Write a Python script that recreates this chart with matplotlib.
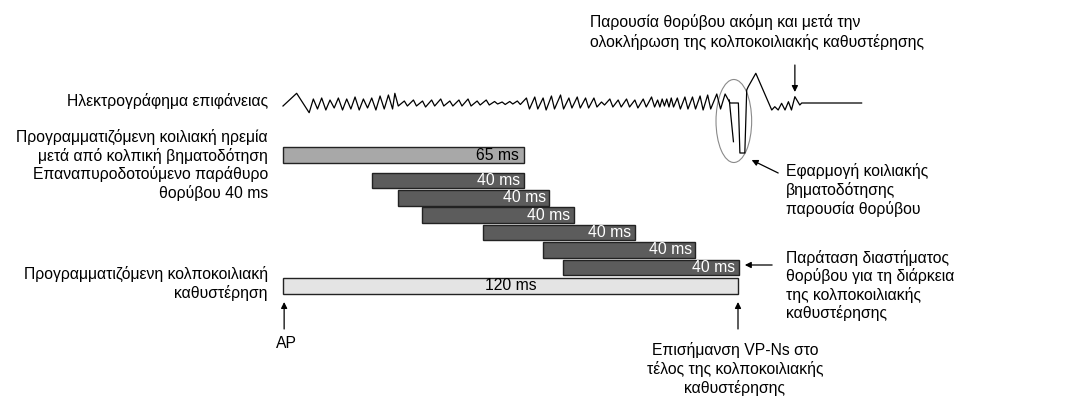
import matplotlib.pyplot as plt
from matplotlib.patches import Ellipse

plt.rcParams['font.family'] = ['Liberation Sans', 'DejaVu Sans']

# time axis in ms, 0 = atrial pace
av_delay = 120
blank_len = 63.5
blank_label = '65 ms'
noise_start = [23.5, 30.2, 36.7, 52.8, 68.7, 73.8]
noise_len = [40, 40, 40, 40, 40, 46.4]
noise_label = '40 ms'

# surface ECG: time (ms), deflection (arbitrary, up positive)
ecg_t = [0, 3.6, 6.9,
         8.0, 9.1, 10.2, 11.3, 12.4, 13.5, 14.6, 15.7, 16.8, 17.9, 19.0, 20.1,
         21.2, 22.3, 23.4, 24.5, 25.6, 26.7, 27.8, 28.9, 29.5, 30.4,
         32.0, 32.8, 34.4, 35.2, 36.8, 37.6, 39.2, 40.0, 41.6, 42.4, 44.0, 44.8,
         46.4, 47.2, 48.8, 49.6, 51.2, 52.0, 53.6, 54.4,
         55.8, 56.6, 57.8, 58.6, 59.8, 60.6, 61.8, 62.6,
         64.2, 65.0, 66.4, 67.2, 68.6, 69.4, 70.8, 71.6, 73.2, 74.0,
         75.4, 76.2, 77.6, 78.4, 79.8, 80.6, 82.0, 82.8,
         84.0, 84.8, 86.2, 87.0, 88.4, 89.2, 90.6, 91.4, 92.8, 93.6, 95.0, 95.8,
         97.2, 98.0, 98.8, 99.4, 100.0, 100.6, 101.2, 101.8, 102.4, 103.0,
         104.0, 104.8, 106.0, 106.8, 108.0, 108.8, 110.0, 110.8, 112.0, 112.8,
         114.4, 115.4, 116.6, 117.9, 120.1, 120.5, 121.8, 122.3, 122.7, 124.7,
         128.9, 129.7, 130.6, 131.5, 132.4, 133.3, 134.1, 135.0, 136.3, 136.8, 152.6]
ecg_v = [-3, 9.7, -9.7,
         4, -6, 5, -7, 3, -5, 5, -7, 4, -6, 6, -7,
         4, -5, 5, -7, 7, -6, 8, -6, 9.7, -3,
         2, -3, 3, -3, 2, -4, 3, -3, 4, -3, 2, -3,
         3, -3, 4, -3, 2, -2, 3, -2,
         1.5, -1, 1, -1.5, 1.5, -1, 2, -1.5,
         5, -6, 6, -6, 5, -7, 7, -6, 8, -6,
         5, -5, 6, -5, 5, -5, 5, -4,
         1, -2, 4, -4, 3, -4, 4, -4, 3, -5, 4, -4,
         6, -4, 3, -4, 4, -3, 4, -4, 5, -4,
         5, -6, 6, -6, 6, -6, 7, -7, 8, -6,
         9, -6, 9, 0, 0, -50, -50, 13, 16.3, 29.7,
         -7, -3.7, -7, -0.3, -7, 1.3, -7, 6.3, -2, 0, 0]
spike_t = [117.7, 118.8]
spike_v = [3, -38.7]

fig = plt.figure(figsize=(10.73, 3.96), dpi=100)
ax = fig.add_axes([0, 0, 1, 1])
px_ms = 455 / 120
ax.set_xlim(-283 / px_ms, (1073 - 283) / px_ms)
ax.set_ylim(396, 0)
ax.axis('off')

base = 103
ax.plot(ecg_t, [base - v for v in ecg_v], color='black', lw=0.9)
ax.plot(spike_t, [base - v for v in spike_v], color='black', lw=0.9)
ax.add_patch(Ellipse((118.9, 121), 9.4, 83, fill=False, edgecolor='#8a8a8a', lw=0.8))

fs = 11.3
h = 15.5
# blanking bar
ax.barh(155, blank_len, left=0, height=h, color='#a8a8a8', edgecolor='#222222', lw=1)
ax.text(blank_len - 1.3, 155, blank_label, ha='right', va='center', fontsize=fs, color='black')
rows = [180.3, 197.8, 215, 232.7, 250, 267.5]
for y, s, w in zip(rows, noise_start, noise_len):
    ax.barh(y, w, left=s, height=h, color='#5c5c5c', edgecolor='#222222', lw=1)
    ax.text(s + w - 0.9, y, noise_label, ha='right', va='center', fontsize=fs, color='white')
ax.barh(285.8, av_delay, left=0, height=h, color='#e4e4e4', edgecolor='#222222', lw=1)
ax.text(av_delay / 2, 285.8, '120 ms', ha='center', va='center', fontsize=fs)

# left labels
lx = -4.0
ax.text(lx, 101, 'Ηλεκτρογράφημα επιφάνειας', ha='right', va='center', fontsize=fs)
ax.text(lx, 146.5, 'Προγραμματιζόμενη κοιλιακή ηρεμία\nμετά από κολπική βηματοδότηση',
        ha='right', va='center', fontsize=fs, linespacing=1.21)
ax.text(lx, 183.5, 'Επαναπυροδοτούμενο παράθυρο\nθορύβου 40 ms',
        ha='right', va='center', fontsize=fs, linespacing=1.21)
ax.text(lx, 283.5, 'Προγραμματιζόμενη κολποκοιλιακή\nκαθυστέρηση',
        ha='right', va='center', fontsize=fs, linespacing=1.21)

arr = dict(arrowstyle='-|>', color='black', lw=0.9, mutation_scale=9, shrinkA=0, shrinkB=0)
ax.annotate('', xy=(0.3, 302), xytext=(0.3, 329), arrowprops=arr)
ax.text(0.8, 343, 'AP', ha='center', va='center', fontsize=fs)
ax.annotate('', xy=(120, 302), xytext=(120, 329), arrowprops=arr)
ax.text(119.2, 369, 'Επισήμανση VP-Ns στο\nτέλος της κολποκοιλιακής\nκαθυστέρησης',
        ha='center', va='center', fontsize=fs, linespacing=1.2)

ax.annotate('', xy=(135.0, 92), xytext=(135.0, 65), arrowprops=arr)
ax.text(81, 32, 'Παρουσία θορύβου ακόμη και μετά την\nολοκλήρωση της κολποκοιλιακής καθυστέρησης',
        ha='left', va='center', fontsize=fs, linespacing=1.31)

ax.annotate('', xy=(123.6, 160), xytext=(130.6, 173), arrowprops=arr)
ax.text(132.6, 190, 'Εφαρμογή κοιλιακής\nβηματοδότησης\nπαρουσία θορύβου',
        ha='left', va='center', fontsize=fs, linespacing=1.2)

ax.annotate('', xy=(121.8, 265), xytext=(129.0, 265), arrowprops=arr)
ax.text(132.6, 285.5, 'Παράταση διαστήματος\nθορύβου για τη διάρκεια\nτης κολποκοιλιακής\nκαθυστέρησης',
        ha='left', va='center', fontsize=fs, linespacing=1.2)

fig.savefig('out.png', dpi=100)
